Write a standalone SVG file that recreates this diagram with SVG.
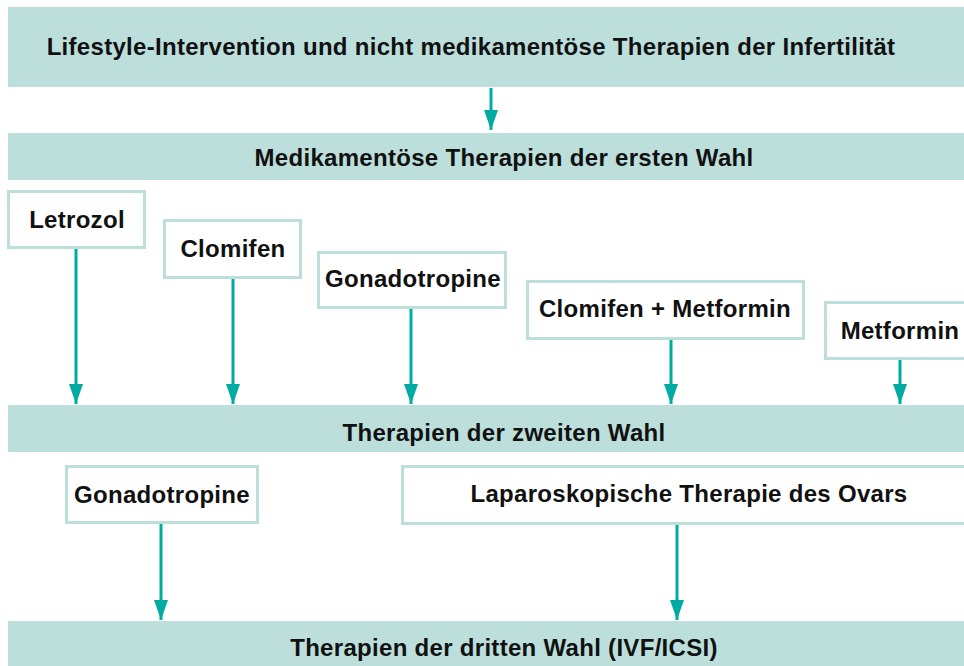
<svg xmlns="http://www.w3.org/2000/svg" width="964" height="666" viewBox="0 0 964 666">
<defs>
<style>
.band{fill:#bcdfdc}
.box{fill:#fff;stroke:#bcdfdc;stroke-width:3}
.t{font-family:"Liberation Sans",Arial,sans-serif;font-weight:bold;font-size:24px;letter-spacing:0.3px;fill:#111;text-anchor:middle}
.c{stroke:#00aca1;stroke-width:3;fill:none}
</style>
<marker id="ah" viewBox="0 0 20 14" refX="20" refY="7" markerWidth="20" markerHeight="14" markerUnits="userSpaceOnUse" orient="auto">
<path d="M0,0 L20,7 L0,14 Z" fill="#00aca1"/>
</marker>
</defs>
<rect width="964" height="666" fill="#fff"/>
<g id="band1"><rect class="band" x="8" y="7" width="956" height="80"/><text class="t" x="471" y="55">Lifestyle-Intervention und nicht medikamentöse Therapien der Infertilität</text></g>
<g id="band2"><rect class="band" x="8" y="133" width="956" height="47"/><text class="t" x="504" y="166">Medikamentöse Therapien der ersten Wahl</text></g>
<g id="letrozol"><rect class="box" x="8.5" y="191.5" width="136" height="56"/><text class="t" x="77" y="228">Letrozol</text></g>
<g id="clomifen"><rect class="box" x="164.5" y="220.5" width="136" height="57"/><text class="t" x="233" y="257">Clomifen</text></g>
<g id="gonadotropine1"><rect class="box" x="318.5" y="252.5" width="187" height="55"/><text class="t" x="413" y="287">Gonadotropine</text></g>
<g id="clomifenmetformin"><rect class="box" x="527.5" y="281.5" width="276" height="57"/><text class="t" x="665" y="317">Clomifen + Metformin</text></g>
<g id="metformin"><rect class="box" x="825.5" y="302.5" width="145" height="56"/><text class="t" x="900" y="339">Metformin</text></g>
<g id="band3"><rect class="band" x="8" y="405" width="956" height="47"/><text class="t" x="504" y="441">Therapien der zweiten Wahl</text></g>
<g id="gonadotropine2"><rect class="box" x="66.5" y="466.5" width="191" height="56"/><text class="t" x="162" y="503">Gonadotropine</text></g>
<g id="laparoskopie"><rect class="box" x="402.5" y="466.5" width="570" height="57"/><text class="t" x="689" y="502">Laparoskopische Therapie des Ovars</text></g>
<g id="band4"><rect class="band" x="8" y="621" width="956" height="45"/><text class="t" x="504" y="656">Therapien der dritten Wahl (IVF/ICSI)</text></g>
<g id="connectors">
<line class="c" x1="491" y1="88" x2="491" y2="130" marker-end="url(#ah)"/>
<line class="c" x1="76" y1="249" x2="76" y2="404" marker-end="url(#ah)"/>
<line class="c" x1="233" y1="279" x2="233" y2="404" marker-end="url(#ah)"/>
<line class="c" x1="411" y1="309" x2="411" y2="404" marker-end="url(#ah)"/>
<line class="c" x1="671" y1="340" x2="671" y2="404" marker-end="url(#ah)"/>
<line class="c" x1="900" y1="360" x2="900" y2="404" marker-end="url(#ah)"/>
<line class="c" x1="161" y1="524" x2="161" y2="620" marker-end="url(#ah)"/>
<line class="c" x1="677" y1="525" x2="677" y2="620" marker-end="url(#ah)"/>
</g>
</svg>
